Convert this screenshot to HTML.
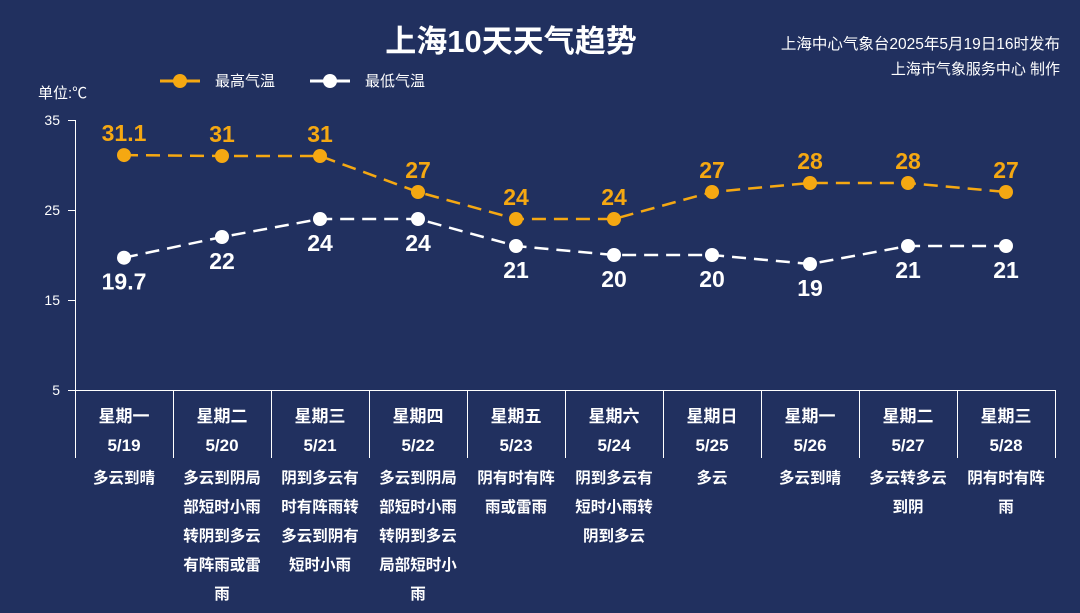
<!DOCTYPE html>
<html><head><meta charset="utf-8"><style>
body{margin:0;width:1080px;height:613px;background:#21305f;overflow:hidden;font-family:"Liberation Sans","Noto Sans CJK SC",sans-serif}
svg{display:block}
</style></head><body>
<svg id="c" width="1080" height="613">
<text x="511" y="52" fill="#fff" font-size="31" font-weight="bold" text-anchor="middle">上海10天天气趋势</text>
<text x="1060" y="49" fill="#fff" font-size="15.5" text-anchor="end">上海中心气象台2025年5月19日16时发布</text>
<text x="1060" y="74" fill="#fff" font-size="15" text-anchor="end">上海市气象服务中心 制作</text>
<text x="38" y="98" fill="#fff" font-size="15">单位:℃</text>
<g><line x1="160" y1="81" x2="200" y2="81" stroke="#f5a812" stroke-width="3"/><circle cx="180" cy="81" r="7" fill="#f5a812"/><text x="215" y="86" fill="#fff" font-size="15">最高气温</text></g>
<g><line x1="310" y1="81" x2="350" y2="81" stroke="#fff" stroke-width="3"/><circle cx="330" cy="81" r="7" fill="#fff"/><text x="365" y="86" fill="#fff" font-size="15">最低气温</text></g>
<line x1="75.5" y1="120" x2="75.5" y2="458" stroke="#fff" stroke-width="1"/>
<line x1="75" y1="390.5" x2="1055" y2="390.5" stroke="#fff" stroke-width="1"/>
<g id="g"></g>
</svg>
<script>
const days=["星期一","星期二","星期三","星期四","星期五","星期六","星期日","星期一","星期二","星期三"];
const dates=["5/19","5/20","5/21","5/22","5/23","5/24","5/25","5/26","5/27","5/28"];
const highs=[31.1,31,31,27,24,24,27,28,28,27];
const lows=[19.7,22,24,24,21,20,20,19,21,21];
const yTicks=[35,25,15,5];
const descs=[["多云到晴"],["多云到阴局","部短时小雨","转阴到多云","有阵雨或雷","雨"],["阴到多云有","时有阵雨转","多云到阴有","短时小雨"],["多云到阴局","部短时小雨","转阴到多云","局部短时小","雨"],["阴有时有阵","雨或雷雨"],["阴到多云有","短时小雨转","阴到多云"],["多云"],["多云到晴"],["多云转多云","到阴"],["阴有时有阵","雨"]];
const g=document.getElementById('g');const NS="http://www.w3.org/2000/svg";
const x0=75,cw=98;
const xs=i=>x0+cw*i+cw/2;
const ys=v=>120+(35-v)*9;
function mk(t,a,txt){const e=document.createElementNS(NS,t);for(const k in a)e.setAttribute(k,a[k]);if(txt!=null)e.textContent=txt;g.appendChild(e);return e;}
yTicks.forEach(v=>{
 const t=mk('text',{x:60,y:ys(v)+5,fill:'#fff','font-size':14,'text-anchor':'end'},v);
 
 
 const l=mk('line',{x1:68,y1:ys(v)+.5,x2:75,y2:ys(v)+.5,stroke:'#fff'});
 
 
});
for(let i=0;i<=10;i++){const l=mk('line',{x1:x0+cw*i+.5,y1:390,x2:x0+cw*i+.5,y2:458,stroke:'#fff'});
 
 }
function series(arr,col,name,above){
 const p=mk('polyline',{points:arr.map((v,i)=>xs(i)+','+ys(v)).join(' '),fill:'none',stroke:col,'stroke-width':2.5,'stroke-dasharray':'14 8'});
 
 
 arr.forEach((v,i)=>{
  const c=mk('circle',{cx:xs(i),cy:ys(v),r:7,fill:col});
  
  
  const t=mk('text',{x:xs(i),y:above?ys(v)-14:ys(v)+32,fill:col,'font-size':23,'font-weight':'bold','text-anchor':'middle'},v);
  
  
 });
}
series(highs,'#f5a812','high-temp',true);
series(lows,'#ffffff','low-temp',false);
days.forEach((d,i)=>{
 const a=mk('text',{x:xs(i),y:422,fill:'#fff','font-size':17,'font-weight':'bold','text-anchor':'middle'},d);
 
 
 const b=mk('text',{x:xs(i),y:451,fill:'#fff','font-size':17,'font-weight':'bold','text-anchor':'middle'},dates[i]);
 
 
 descs[i].forEach((s,j)=>{
  const t=mk('text',{x:xs(i),y:483+j*29,fill:'#fff','font-size':15.5,'font-weight':'bold','text-anchor':'middle'},s);
  
  
 });
});
</script>
</body></html>
